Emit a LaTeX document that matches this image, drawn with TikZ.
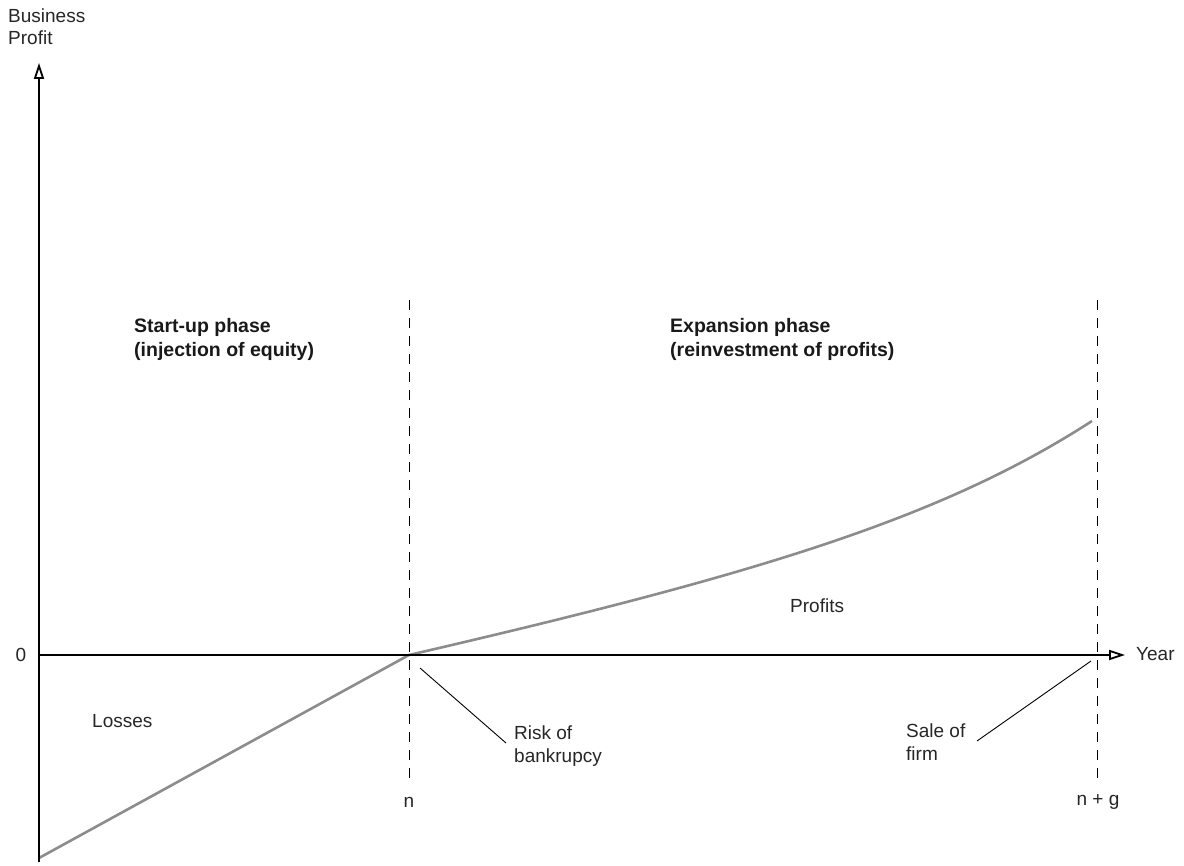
\documentclass[tikz,border=0pt]{standalone}
\usepackage{fontspec}
\setmainfont{Liberation Sans}
\usetikzlibrary{arrows.meta}
\begin{document}
\begin{tikzpicture}[x=1pt,y=-1pt,
  axis/.style={line width=2.2pt,-{Triangle[open,length=16pt,width=10pt,line width=1.8pt]}},
  guide/.style={line width=1pt,dash pattern=on 10pt off 8pt},
  curve/.style={line width=2.6pt,color=black!45},
  leader/.style={line width=0.9pt},
  lbl/.style={font=\fontsize{19}{22.5}\selectfont,inner sep=0pt,align=left,text=black!85},
  blbl/.style={font=\fontsize{19.5}{24}\bfseries\selectfont,inner sep=0pt,align=left,text=black!90,anchor=base west}]
\useasboundingbox (0,0) rectangle (1184,866);
\coordinate (O) at (39,655);
\coordinate (ybot) at (39,862);
\coordinate (ytop) at (39,63);
\coordinate (xend) at (1125,655);
\coordinate (n) at (409,655);
\coordinate (start) at (39,858);
\coordinate (endc) at (1092,421);
% curve
\draw[curve] (start) -- (n) .. controls (759,574) and (942,518) .. (endc);
% guides
\coordinate (g1t) at (409,300); \coordinate (g1b) at (409,783);
\coordinate (g2t) at (1097,300); \coordinate (g2b) at (1097,783);
\draw[guide] (g1t) -- (g1b);
\draw[guide] (g2t) -- (g2b);
% axes
\draw[axis] (ybot) -- (ytop);
\draw[axis] (O) -- (xend);
% labels
\node[lbl,anchor=base west] (bp) at (8,45) {Business\\Profit};
\node[lbl] (zero) at (21,655) {0};
\node[lbl,anchor=west] (year) at (1136,654) {Year};
\node[lbl] (nl) at (409,802) {n};
\node[lbl] (ngl) at (1098,802) {n + g};
\node[lbl,anchor=base west] (loss) at (92,727) {Losses};
\node[lbl,anchor=base west] (prof) at (790,612) {Profits};
\node[blbl] (su) at (134,357) {Start-up phase\\(injection of equity)};
\node[blbl] (ex) at (670,357) {Expansion phase\\(reinvestment of profits)};
\node[lbl,anchor=base west] (risk) at (514,762) {Risk of\\bankrupcy};
\node[lbl,anchor=base west] (sale) at (906,760) {Sale of\\firm};
\coordinate (r1) at (420,668); \coordinate (r2) at (506,743);
\coordinate (s1) at (1091,661); \coordinate (s2) at (977,741);
\draw[leader] (r1) -- (r2);
\draw[leader] (s1) -- (s2);
\end{tikzpicture}
\end{document}
